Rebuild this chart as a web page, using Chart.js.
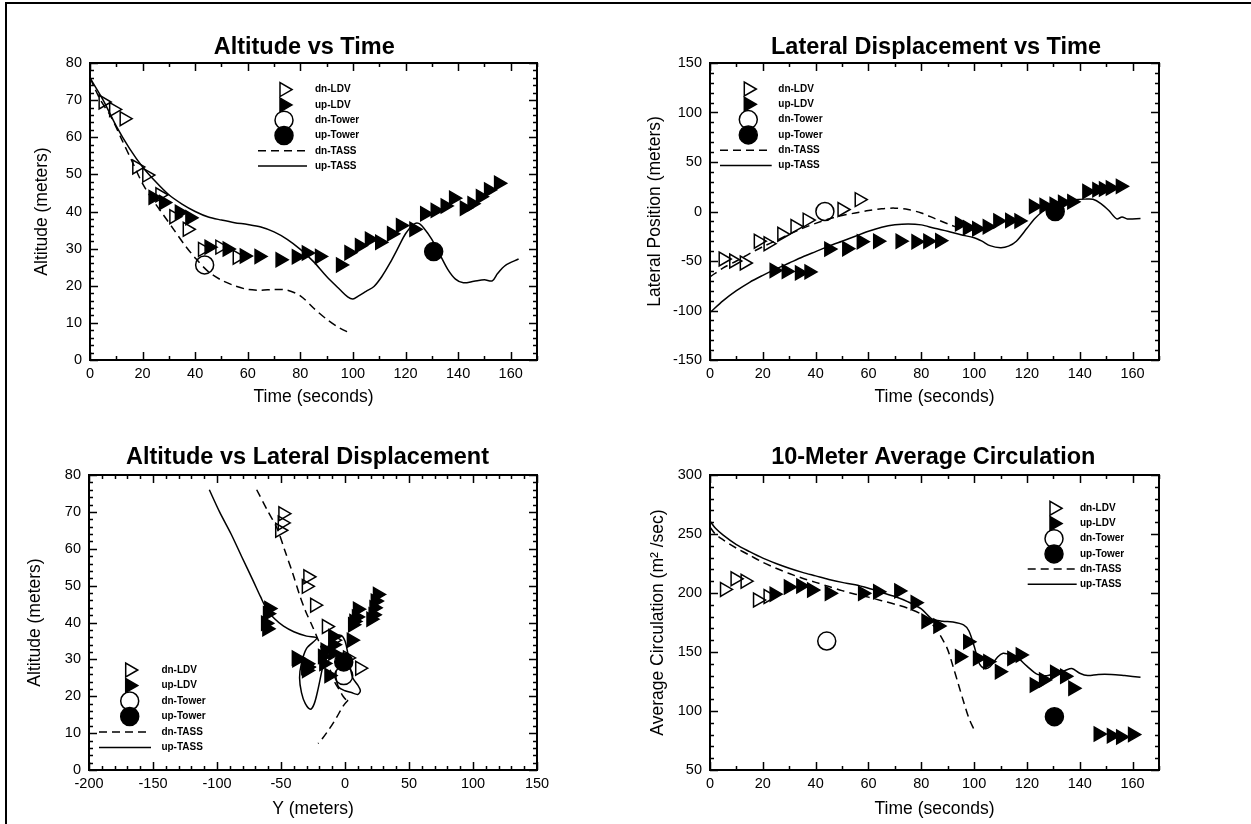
<!DOCTYPE html>
<html>
<head>
<meta charset="utf-8">
<script src="https://cdn.jsdelivr.net/npm/chart.js@4.4.1/dist/chart.umd.min.js"></script>
<style>
body { margin: 0; background: #fff; }
#page { position: relative; width: 1251px; height: 824px; overflow: hidden; background: #fff; }
#frame { position: absolute; left: 5px; top: 2px; width: 1400px; height: 1000px; border-left: 2px solid #000; border-top: 2px solid #000; }
canvas { position: absolute; }
</style>
</head>
<body>
<div id="page">
  <div id="frame"></div>
  <canvas id="c1"></canvas>
  <canvas id="c2"></canvas>
  <canvas id="c3"></canvas>
  <canvas id="c4"></canvas>
</div>
<script>
const FONT = "'Liberation Sans', Arial, Helvetica, sans-serif";

// tick labels
const timeTicks = [0, 20, 40, 60, 80, 100, 120, 140, 160];
const altTicks = [0, 10, 20, 30, 40, 50, 60, 70, 80];
const latTicks = [-150, -100, -50, 0, 50, 100, 150];
const yPosTicks = [-200, -150, -100, -50, 0, 50, 100, 150];
const circTicks = [50, 100, 150, 200, 250, 300];

// Altitude vs Time  [t, altitude]
const altDnLDV = [[5,69.5],[9,67.5],[13,65],[17.8,52],[21.6,49.8],[26.6,44.5],[31.9,38.6],[37,35.2],[42.8,29.8],[49.4,30.4],[56,27.7]];
const altUpLDV = [[24,43.8],[28,42.4],[34,39.8],[38,38.3],[45.3,30.4],[52.2,29.9],[58.7,28],[64.3,27.9],[72.3,27],[78.5,27.8],[82.3,28.8],[87.3,27.9],[95.3,25.6],[98.5,28.9],[102.5,30.8],[106.3,32.5],[110.2,31.7],[114.7,34],[118.1,36.2],[123.2,35.2],[127.3,39.4],[131.3,40.3],[135.1,41.5],[138.3,43.6],[142.4,40.9],[145.3,42.1],[148.5,44],[151.6,45.8],[155.4,47.6]];
const altDnTower = [[43.6,25.6]];
const altUpTower = [[130.7,29.2]];
const altDnTASS = [[0,76],[4,70],[8,65.5],[12,59.5],[16,53.5],[20,47.5],[24,43],[28,39],[32,35],[36,31],[40,27.5],[45,23.8],[50,21.5],[55,20],[60,19],[65,18.8],[70,19],[75,18.8],[80,17.3],[85,14],[90,11],[95,8.6],[99,7.2]];
const altUpTASS = [[0,76],[5,70],[10,63],[15,57],[20,52],[25,48],[30,44.5],[35,42],[40,40],[45,38.5],[50,37.7],[55,37],[60,36.5],[65,35.8],[70,34.5],[75,32.5],[80,29.8],[85,26.5],[90,22.5],[95,19],[98,17],[100,16.4],[102,17.2],[105,18.5],[108,19.8],[111,22.5],[114,26],[117,30],[120,34],[123,36.5],[125,36.8],[127,35.5],[130,32.5],[133,28.5],[136,24.5],[139,21.8],[142,20.8],[146,21.2],[150,21.6],[153,21.3],[155,23.3],[158,25.5],[163,27.2]];

// Lateral Displacement vs Time  [t, lateral]
const latDnLDV = [[5,-48],[9,-50],[13,-52],[18.3,-30],[22,-32.5],[27.2,-23],[32.2,-15.2],[36.8,-8.7],[50,2],[56.5,12]];
const latUpLDV = [[24.3,-59.5],[28.9,-60.5],[33.9,-62],[37.5,-61],[45,-38],[51.8,-37.6],[57.3,-30.5],[63.5,-30],[72,-30],[78,-30.5],[82.5,-30],[87,-29.5],[94.5,-12.5],[97.5,-16.5],[101,-17.5],[105,-15.5],[109,-9.5],[113.5,-9],[117,-9.5],[122.5,5],[126.5,6],[130.3,7],[133.5,9],[137,9.8],[142.7,20.3],[146.5,22],[149,22.7],[151.6,23.7],[155.4,25.4]];
const latDnTower = [[43.5,0]];
const latUpTower = [[130.7,0]];
const latDnTASS = [[0,-66],[5,-57],[10,-50],[15,-42.5],[20,-35.5],[25,-29.5],[30,-23],[35,-17],[40,-12],[45,-7.5],[50,-4],[55,-1.5],[60,1],[65,2.8],[70,3.4],[75,2],[80,-1.5],[85,-7],[90,-12.5],[96,-18.5]];
const latUpTASS = [[0,-102],[5,-90],[10,-80],[15,-71.5],[20,-64.5],[25,-58],[30,-52],[35,-46],[40,-40.5],[45,-35],[50,-30],[55,-25],[60,-20],[65,-16],[70,-13.5],[75,-12.5],[80,-13.5],[85,-17],[90,-20],[95,-23.5],[100,-26.5],[103,-30],[106,-34.5],[110,-36.5],[113,-35],[116,-30],[120,-17],[123,-7],[126,0],[130,6],[134,10],[138,12],[142,12.5],[145,12.3],[148,8],[151,1],[154,-7.5],[156,-5.5],[158,-7.5],[163,-7]];

// Altitude vs Lateral Displacement  [Y, altitude]
const ypDnLDV = [[-48.5,69.5],[-49,67],[-51,65],[-29,52.4],[-30.2,49.8],[-23.7,44.7],[-14.5,38.9],[-9,35.2],[2,30.4],[11.5,27.6]];
const ypUpLDV = [[-59.5,43.8],[-60.5,42.4],[-62,39.8],[-61,38.3],[-38,30.4],[-37.6,29.9],[-30.5,28],[-30,27.9],[-30,27],[-30.5,27.8],[-30,28.8],[-29.5,27.9],[-12.5,25.6],[-16.5,28.9],[-17.5,30.8],[-15.5,32.5],[-9.5,31.7],[-9,34],[-9.5,36.2],[5,35.2],[6,39.4],[7,40.3],[9,41.5],[9.8,43.6],[20.3,40.9],[22,42.1],[22.7,44],[23.7,45.8],[25.4,47.6]];
const ypDnTower = [[-1,25.6]];
const ypUpTower = [[-1,29.3]];
const ypDnTASS = [[-69,76],[-60,70],[-53,65.5],[-47,59.5],[-41,53.5],[-35.5,47.5],[-30.7,43],[-25.5,39],[-20.6,35],[-16,31],[-12,27.5],[-8,23.8],[-4,21.5],[-1.5,20],[1,19],[2.8,18.8],[3.4,19],[2,18.8],[-1.5,17.3],[-7,14],[-12.5,11],[-17.5,8.6],[-21,7.2]];
const ypUpTASS = [[-106,76],[-98,70],[-89,64],[-80.5,57.7],[-72,51.5],[-66,47],[-61,43.5],[-55,41],[-48,39],[-40,37.5],[-30,36.3],[-22,35.8],[-30,33],[-34,29],[-35.5,25],[-34,21],[-31,18],[-27,16.5],[-24,18],[-21,22],[-18,27],[-15,31.5],[-12,34.5],[-8,36.2],[-3,36.5],[0,35],[2,32],[4,28],[6,25],[10,23],[12,21.5],[10,20.5],[5,21],[0,21.5],[-5,22.5],[-7,25],[-7,27]];

// 10-Meter Average Circulation  [t, circulation]
const circDnLDV = [[5.5,203],[9.5,212],[13.3,210],[18,194],[22,197]];
const circUpLDV = [[24.3,199],[29.7,205],[34.4,206],[38.5,202.5],[45.2,199.7],[57.8,199.7],[63.5,201],[71.5,201.8],[77.7,191.8],[81.8,176],[86.3,172],[94.5,146],[97.6,158.7],[101.3,144.6],[105.2,141.8],[109.6,133.3],[114.3,144.6],[117.5,147.5],[122.8,122],[126.3,126.3],[130.5,132.7],[134.3,129.4],[137.4,119.2],[147,80.5],[152,79],[155.5,78],[160,80]];
const circDnTower = [[44.2,159.3]];
const circUpTower = [[130.4,95.2]];
const circDnTASS = [[0,256],[2,250],[5,245],[10,238],[15,232],[20,226],[25,221],[30,216.5],[35,212.5],[40,209],[45,205.5],[50,202],[55,199],[60,196.5],[65,193.5],[70,190.5],[75,187],[80,182],[84,174],[86,168],[88,161],[90,152],[92,138],[94,123],[96,108],[98,94],[100,84]];
const circUpTASS = [[0,261],[2,255],[5,249],[10,241],[15,235],[20,229.5],[25,225],[30,221],[35,217.5],[40,214.5],[45,211.5],[50,209],[55,207],[60,204],[65,200.5],[70,197],[75,192.5],[80,186.5],[84,178],[88,176],[92,175.5],[96,173],[98,168],[100,155],[102,140],[104,136],[106,137.5],[109,146],[111,149],[113,148],[116,146],[120,138],[124,131],[128,130],[131,133],[134,134],[137,136],[140,132],[143,130],[147,131],[152,131],[157,130],[163,128.6]];

const legendNames = ['dn-LDV', 'up-LDV', 'dn-Tower', 'up-Tower', 'dn-TASS', 'up-TASS'];

function pts(arr) {
    return arr.map(p => ({ x: p[0], y: p[1] }));
}

function markers(label, arr, style, filled) {
    return {
        label: label,
        data: pts(arr),
        showLine: false,
        pointStyle: style,
        pointRotation: style === 'triangle' ? 90 : 0,
        pointRadius: style === 'triangle' ? 8 : 9,
        pointHoverRadius: style === 'triangle' ? 8 : 9,
        pointBorderWidth: 1.5,
        pointBorderColor: '#000',
        pointBackgroundColor: filled ? '#000' : 'rgba(0,0,0,0)'
    };
}

function curve(label, arr, dashed) {
    return {
        label: label,
        data: pts(arr),
        showLine: true,
        borderColor: '#000',
        borderWidth: 1.5,
        borderDash: dashed ? [8, 5] : [],
        pointRadius: 0,
        pointHoverRadius: 0,
        tension: 0.3,
        fill: false
    };
}

function sixSets(dnLDV, upLDV, dnTower, upTower, dnTASS, upTASS) {
    return [
        markers('dn-LDV', dnLDV, 'triangle', false),
        markers('up-LDV', upLDV, 'triangle', true),
        markers('dn-Tower', dnTower, 'circle', false),
        markers('up-Tower', upTower, 'circle', true),
        curve('dn-TASS', dnTASS, true),
        curve('up-TASS', upTASS, false)
    ];
}

function isMajor(v, step) {
    const q = v / step;
    return Math.abs(q - Math.round(q)) < 1e-6;
}

// axis box with inward ticks on all four sides
const frameTicks = {
    id: 'frameTicks',
    afterDraw(chart, args, opts) {
        const { ctx, chartArea: a, scales: { x, y } } = chart;
        ctx.save();
        ctx.strokeStyle = '#000';
        ctx.lineWidth = 1.5;
        ctx.beginPath();
        for (let v = x.min; v <= x.max + 1e-6; v += opts.xMinor) {
            const px = Math.round(x.getPixelForValue(v)) + 0.5;
            const len = isMajor(v, opts.xMajor) ? 8 : 4;
            ctx.moveTo(px, a.bottom); ctx.lineTo(px, a.bottom - len);
            ctx.moveTo(px, a.top); ctx.lineTo(px, a.top + len);
        }
        for (let v = y.min; v <= y.max + 1e-6; v += opts.yMinor) {
            const py = Math.round(y.getPixelForValue(v)) + 0.5;
            const len = isMajor(v, opts.yMajor) ? 8 : 4;
            ctx.moveTo(a.left, py); ctx.lineTo(a.left + len, py);
            ctx.moveTo(a.right, py); ctx.lineTo(a.right - len, py);
        }
        ctx.stroke();
        ctx.lineWidth = 2;
        ctx.strokeRect(a.left, a.top, a.right - a.left, a.bottom - a.top);
        ctx.restore();
    }
};

// bold panel title placed over the plot box
const panelTitle = {
    id: 'panelTitle',
    afterDraw(chart, args, o) {
        const { ctx, chartArea: a } = chart;
        ctx.save();
        ctx.fillStyle = '#000';
        ctx.font = 'bold 23.5px ' + FONT;
        ctx.textAlign = 'center';
        ctx.textBaseline = 'middle';
        ctx.fillText(o.text, (a.left + a.right) / 2 + o.shift, a.top - o.gap);
        ctx.restore();
    }
};

function drawTri(ctx, cx, cy, r, filled) {
    let rad = Math.PI / 2;
    ctx.beginPath();
    ctx.moveTo(cx + Math.sin(rad) * r, cy - Math.cos(rad) * r);
    rad += 2 * Math.PI / 3;
    ctx.lineTo(cx + Math.sin(rad) * r, cy - Math.cos(rad) * r);
    rad += 2 * Math.PI / 3;
    ctx.lineTo(cx + Math.sin(rad) * r, cy - Math.cos(rad) * r);
    ctx.closePath();
    if (filled) ctx.fill();
    ctx.stroke();
}

// legend inside the plot box
const boxLegend = {
    id: 'boxLegend',
    afterDraw(chart, args, o) {
        const { ctx, chartArea: a } = chart;
        ctx.save();
        ctx.strokeStyle = '#000';
        ctx.fillStyle = '#000';
        ctx.lineWidth = 1.5;
        legendNames.forEach((name, i) => {
            const y = a.top + o.top + i * o.gap;
            const mx = a.left + o.marker;
            if (i === 0) drawTri(ctx, mx, y, 8, false);
            if (i === 1) drawTri(ctx, mx, y, 8, true);
            if (i === 2 || i === 3) {
                ctx.beginPath();
                ctx.arc(mx, y, 9, 0, Math.PI * 2);
                if (i === 3) ctx.fill();
                ctx.stroke();
            }
            if (i === 4 || i === 5) {
                ctx.setLineDash(i === 4 ? [8, 5] : []);
                ctx.beginPath();
                ctx.moveTo(a.left + o.l1, y);
                ctx.lineTo(a.left + o.l2, y);
                ctx.stroke();
                ctx.setLineDash([]);
            }
            ctx.font = 'bold 10px ' + FONT;
            ctx.textBaseline = 'middle';
            ctx.textAlign = 'left';
            ctx.fillText(name, a.left + o.text, y);
        });
        ctx.restore();
    }
};

const panels = [
    {
        id: 'c1', area: { l: 90, t: 63, r: 537, b: 360 },
        title: { text: 'Altitude vs Time', shift: -9.3, gap: 15.7 },
        xMin: 0, xMax: 170, xTicks: timeTicks, xMinor: 10, xMajor: 20, xTitle: 'Time (seconds)', xTitlePad: 4,
        yMin: 0, yMax: 80, yTicks: altTicks, yMinor: 2, yMajor: 10, yTitle: 'Altitude (meters)', yTitlePad: 22,
        sets: () => sixSets(altDnLDV, altUpLDV, altDnTower, altUpTower, altDnTASS, altUpTASS),
        legend: { marker: 194, text: 225, l1: 168, l2: 217, top: 26.6, gap: 15.3 }
    },
    {
        id: 'c2', area: { l: 710, t: 63, r: 1159, b: 360 },
        title: { text: 'Lateral Displacement vs Time', shift: 1.5, gap: 15.7 },
        xMin: 0, xMax: 170, xTicks: timeTicks, xMinor: 10, xMajor: 20, xTitle: 'Time (seconds)', xTitlePad: 4,
        yMin: -150, yMax: 150, yTicks: latTicks, yMinor: 10, yMajor: 50, yTitle: 'Lateral Position (meters)', yTitlePad: 14.5,
        sets: () => sixSets(latDnLDV, latUpLDV, latDnTower, latUpTower, latDnTASS, latUpTASS),
        legend: { marker: 38.3, text: 68.3, l1: 10, l2: 61.7, top: 26, gap: 15.3 }
    },
    {
        id: 'c3', area: { l: 89, t: 475, r: 537, b: 770 },
        title: { text: 'Altitude vs Lateral Displacement', shift: -5.5, gap: 17 },
        xMin: -200, xMax: 150, xTicks: yPosTicks, xMinor: 10, xMajor: 50, xTitle: 'Y (meters)', xTitlePad: 2,
        yMin: 0, yMax: 80, yTicks: altTicks, yMinor: 2, yMajor: 10, yTitle: 'Altitude (meters)', yTitlePad: 15.5,
        sets: () => sixSets(ypDnLDV, ypUpLDV, ypDnTower, ypUpTower, ypDnTASS, ypUpTASS),
        legend: { marker: 40.7, text: 72.4, l1: 10, l2: 62, top: 195, gap: 15.5 }
    },
    {
        id: 'c4', area: { l: 710, t: 475, r: 1159, b: 770 },
        title: { text: '10-Meter Average Circulation', shift: -1.2, gap: 17 },
        xMin: 0, xMax: 170, xTicks: timeTicks, xMinor: 10, xMajor: 20, xTitle: 'Time (seconds)', xTitlePad: 2,
        yMin: 50, yMax: 300, yTicks: circTicks, yMinor: 10, yMajor: 50, yTitle: 'Average Circulation (m\u00B2 /sec)', yTitlePad: 17.5,
        sets: () => sixSets(circDnLDV, circUpLDV, circDnTower, circUpTower, circDnTASS, circUpTASS),
        legend: { marker: 344, text: 370, l1: 317.7, l2: 366.7, top: 33.3, gap: 15.2 }
    }
];

function config(p) {
    const tickFont = { family: FONT, size: 14.5 };
    const titleFont = { family: FONT, size: 17.5 };
    return {
        type: 'scatter',
        data: { datasets: p.sets() },
        options: {
            responsive: false,
            maintainAspectRatio: false,
            animation: false,
            devicePixelRatio: 1,
            layout: { padding: { left: 0, right: 20, top: 50, bottom: 0 } },
            plugins: {
                legend: { display: false },
                tooltip: { enabled: false },
                title: { display: false },
                panelTitle: p.title,
                frameTicks: { xMinor: p.xMinor, xMajor: p.xMajor, yMinor: p.yMinor, yMajor: p.yMajor },
                boxLegend: p.legend
            },
            scales: {
                x: {
                    type: 'linear', position: 'bottom', min: p.xMin, max: p.xMax,
                    afterBuildTicks: s => { s.ticks = p.xTicks.map(v => ({ value: v })); },
                    afterFit: s => { s.height = 52; },
                    grid: { display: false, drawTicks: false },
                    border: { display: false },
                    ticks: { color: '#000', font: tickFont, padding: 5, autoSkip: false, maxRotation: 0, callback: v => String(v) },
                    title: { display: true, text: p.xTitle, color: '#000', font: titleFont, padding: { top: 0, bottom: p.xTitlePad } }
                },
                y: {
                    type: 'linear', position: 'left', min: p.yMin, max: p.yMax,
                    afterBuildTicks: s => { s.ticks = p.yTicks.map(v => ({ value: v })); },
                    afterFit: s => { s.width = 80; },
                    grid: { display: false, drawTicks: false },
                    border: { display: false },
                    ticks: { color: '#000', font: tickFont, padding: 8, autoSkip: false, callback: v => String(v) },
                    title: { display: true, text: p.yTitle, color: '#000', font: titleFont, padding: { top: p.yTitlePad, bottom: 0 } }
                }
            }
        },
        plugins: [frameTicks, boxLegend, panelTitle]
    };
}

function makePanel(p) {
    const canvas = document.getElementById(p.id);
    const aw = p.area.r - p.area.l;
    const ah = p.area.b - p.area.t;
    let w = 80 + aw + 20;
    let h = 50 + ah + 52;
    canvas.width = w;
    canvas.height = h;
    let chart = new Chart(canvas.getContext('2d'), config(p));
    let a = chart.chartArea;
    const dw = Math.round(aw - (a.right - a.left));
    const dh = Math.round(ah - (a.bottom - a.top));
    if (dw !== 0 || dh !== 0) {
        chart.destroy();
        w += dw;
        h += dh;
        canvas.width = w;
        canvas.height = h;
        canvas.style.width = w + 'px';
        canvas.style.height = h + 'px';
        chart = new Chart(canvas.getContext('2d'), config(p));
        a = chart.chartArea;
    }
    canvas.style.left = Math.round(p.area.l - a.left) + 'px';
    canvas.style.top = Math.round(p.area.t - a.top) + 'px';
}

panels.forEach(makePanel);
</script>
</body>
</html>
